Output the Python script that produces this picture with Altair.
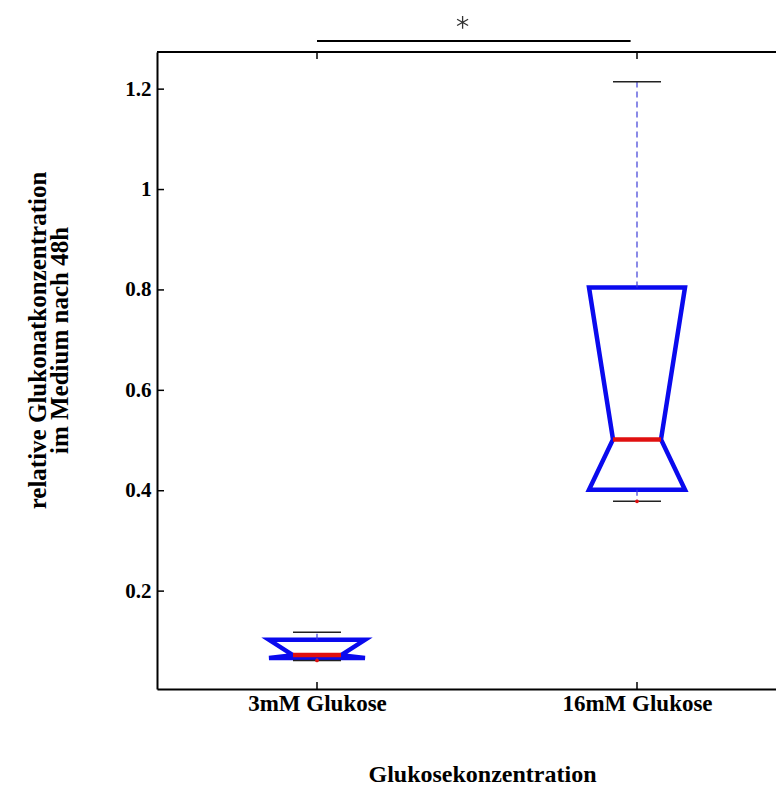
import altair as alt
import pandas as pd

# ---- data ----
groups = ["3mM Glukose", "16mM Glukose"]
positions = [1, 2]
q1 = [0.067, 0.402]
medians = [0.0725, 0.502]
q3 = [0.103, 0.805]
whisker_low = [0.0618, 0.379]
whisker_high = [0.118, 1.2145]
outlier_pos = [1, 2]
outlier_val = [0.0618, 0.379]
y_ticks = [0.2, 0.4, 0.6, 0.8, 1.0, 1.2]
sig_from, sig_to, sig_level = 1.0, 1.98, 1.296
star_x, star_y = 1.455, 1.333

y_title = ["relative Glukonatkonzentration", "im Medium nach 48h"]
x_title = "Glukosekonzentration"

# ---- layout / style ----
BOX_HALF = 0.15
NOTCH_HALF = 0.075
CAP_HALF = 0.075
W, H = 619, 637
X_DOMAIN = [0.5, 0.5 + W / 320]
Y_DOMAIN = [0.005, 1.274]
FONT = "Liberation Serif"
BLUE = "#0a0aee"
RED = "#e01010"

# box outline polygons (notched)
rows = []
for g, p, a, m, b in zip(groups, positions, q1, medians, q3):
    pts = [(p, b), (p + BOX_HALF, b), (p + NOTCH_HALF, m), (p + BOX_HALF, a),
           (p - BOX_HALF, a), (p - NOTCH_HALF, m), (p - BOX_HALF, b), (p, b)]
    for i, (xx, yy) in enumerate(pts):
        rows.append({"group": g, "i": i, "x": xx, "y": yy})
box_df = pd.DataFrame(rows)

stats = pd.DataFrame({
    "group": groups, "pos": positions, "q1": q1, "med": medians, "q3": q3,
    "lo": whisker_low, "hi": whisker_high,
})
stats["nl"] = stats["pos"] - NOTCH_HALF
stats["nr"] = stats["pos"] + NOTCH_HALF
stats["cl"] = stats["pos"] - CAP_HALF
stats["cr"] = stats["pos"] + CAP_HALF

out_df = pd.DataFrame({"pos": outlier_pos, "val": outlier_val})
yt_df = pd.DataFrame({"v": y_ticks})
xt_df = pd.DataFrame({"v": positions})
sig_df = pd.DataFrame({"a": [sig_from], "b": [sig_to], "y": [sig_level]})
star_df = pd.DataFrame({"x": [star_x], "y": [star_y]})

xs = alt.Scale(domain=X_DOMAIN, nice=False, zero=False)
ys = alt.Scale(domain=Y_DOMAIN, nice=False, zero=False)

label_expr = " : ".join(
    f"datum.value == {p} ? '{g}'" for p, g in zip(positions, groups)
) + " : ''"

x_axis = alt.Axis(
    values=positions, labelExpr=label_expr, ticks=False, grid=False,
    domain=True, domainColor="black", domainWidth=2,
    labelFont=FONT, labelFontSize=23, labelFontWeight="bold", labelColor="black",
    labelPadding=3, labelOverlap=False, labelFlush=False,
    title=x_title, titleFont=FONT, titleFontSize=24, titleFontWeight="bold",
    titleColor="black", titleX=325, titleY=85, titleBaseline="middle", titleAlign="center",
)
y_axis = alt.Axis(
    values=y_ticks, format=".1~f", ticks=False, grid=False,
    domain=True, domainColor="black", domainWidth=2,
    labelFont=FONT, labelFontSize=21, labelFontWeight="bold", labelColor="black",
    labelPadding=6, labelOverlap=False, labelFlush=False,
    title=y_title, titleFont=FONT, titleFontSize=25, titleFontWeight="bold",
    titleColor="black", titleAngle=270, titleX=-120, titleY=288,
    titleAlign="center", titleBaseline="middle", titleLineHeight=22,
)


def X(field):
    return alt.X(field, scale=xs, axis=x_axis)


def Y(field):
    return alt.Y(field, scale=ys, axis=y_axis)


boxes = alt.Chart(box_df).mark_line(
    color=BLUE, strokeWidth=4.5, strokeJoin="miter", strokeCap="butt"
).encode(x=X("x:Q"), y=Y("y:Q"), detail="group:N", order="i:Q")

whisk_up = alt.Chart(stats).mark_rule(
    color="#3c3cd8", strokeWidth=1.2, strokeDash=[6, 4]
).encode(x=X("pos:Q"), y=Y("q3:Q"), y2="hi:Q")
whisk_lo = alt.Chart(stats).mark_rule(
    color="#3c3cd8", strokeWidth=1.2, strokeDash=[6, 4]
).encode(x=X("pos:Q"), y=Y("q1:Q"), y2="lo:Q")
cap_hi = alt.Chart(stats).mark_rule(color="#222222", strokeWidth=1.5).encode(
    x=X("cl:Q"), x2="cr:Q", y=Y("hi:Q"))
cap_lo = alt.Chart(stats).mark_rule(color="#222222", strokeWidth=1.5).encode(
    x=X("cl:Q"), x2="cr:Q", y=Y("lo:Q"))
median = alt.Chart(stats).mark_rule(color=RED, strokeWidth=4.5).encode(
    x=X("nl:Q"), x2="nr:Q", y=Y("med:Q"))
outl = alt.Chart(out_df).mark_point(
    filled=True, color=RED, size=14, opacity=1
).encode(x=X("pos:Q"), y=Y("val:Q"))

ytk = alt.Chart(yt_df).mark_rule(color="black", strokeWidth=1.5).encode(
    x=alt.value(0), x2=alt.value(7), y=Y("v:Q"))
xtk_b = alt.Chart(xt_df).mark_rule(color="black", strokeWidth=1.5).encode(
    x=X("v:Q"), y=alt.value(H), y2=alt.value(H - 7))
xtk_t = alt.Chart(xt_df).mark_rule(color="black", strokeWidth=1.5).encode(
    x=X("v:Q"), y=alt.value(0), y2=alt.value(7))
top_border = alt.Chart(xt_df.head(1)).mark_rule(color="black", strokeWidth=2).encode(
    x=alt.value(0), x2=alt.value(W), y=alt.value(0))

sig = alt.Chart(sig_df).mark_rule(color="black", strokeWidth=2).encode(
    x=X("a:Q"), x2="b:Q", y=Y("y:Q"))
star = alt.Chart(star_df).mark_point(
    shape="M0,-1L0,1M-0.87,-0.5L0.87,0.5M-0.87,0.5L0.87,-0.5",
    size=160, color="#333333", strokeWidth=1.3, filled=False, opacity=1,
).encode(x=X("x:Q"), y=Y("y:Q"))

chart = alt.layer(
    boxes, whisk_up, whisk_lo, cap_hi, cap_lo, median, outl,
    ytk, xtk_b, xtk_t, top_border, sig, star,
).properties(
    width=W, height=H,
    autosize=alt.AutoSizeParams(type="none"),
    padding={"left": 149, "top": 44, "right": 0, "bottom": 100},
    background="white",
).configure_view(stroke=None)

chart.save("out.html", embed_options={"renderer": "svg", "actions": False})
